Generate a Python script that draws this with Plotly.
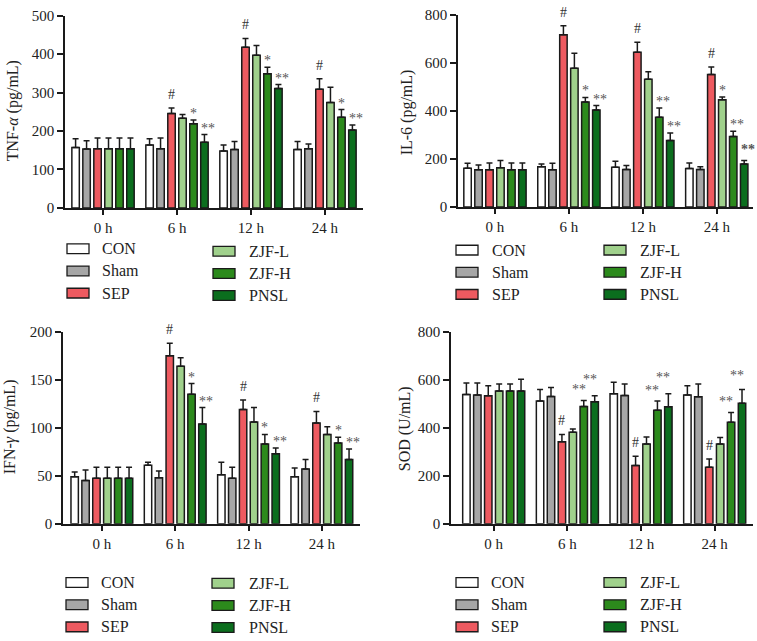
import plotly.graph_objects as go

W, H = 757, 641

groups = ['CON', 'Sham', 'SEP', 'ZJF-L', 'ZJF-H', 'PNSL']
colors = ['#FFFFFF', '#A6A6A6', '#EE5A60', '#A0D18C', '#2C8A1C', '#0B6E1E']
times = ['0 h', '6 h', '12 h', '24 h']

# rows = groups (CON, Sham, SEP, ZJF-L, ZJF-H, PNSL), cols = time points
tnf_mean = [
    [157, 164, 148, 152],
    [153, 154, 152, 154],
    [154, 246, 418, 309],
    [154, 233, 397, 274],
    [154, 219, 349, 236],
    [154, 171, 311, 203],
]
tnf_err = [
    [23, 16, 16, 21],
    [22, 28, 21, 12],
    [28, 14, 23, 27],
    [28, 10, 26, 40],
    [28, 10, 17, 20],
    [28, 20, 10, 13],
]

il6_mean = [
    [161, 167, 165, 160],
    [155, 155, 156, 156],
    [155, 717, 644, 551],
    [163, 578, 532, 446],
    [155, 437, 373, 293],
    [155, 404, 277, 179],
]
il6_err = [
    [21, 12, 25, 23],
    [20, 27, 16, 11],
    [28, 37, 42, 32],
    [30, 62, 31, 12],
    [28, 19, 39, 22],
    [28, 18, 31, 14],
]

ifn_mean = [
    [49, 61, 51, 49],
    [45, 48, 47.5, 57],
    [47.5, 175, 119, 105],
    [47.5, 164, 106, 93],
    [47.5, 135, 83, 84],
    [47.5, 104, 73, 67],
]
ifn_err = [
    [5, 3, 13, 9],
    [11, 7, 11.5, 10],
    [11.5, 13, 10, 12],
    [11.5, 9, 15, 8],
    [11.5, 11, 10, 6],
    [11.5, 17, 6, 11],
]

sod_mean = [
    [538, 511, 542, 536],
    [536, 530, 534, 529],
    [533, 342, 243, 236],
    [553, 381, 332, 332],
    [553, 488, 473, 423],
    [553, 508, 487, 502],
]
sod_err = [
    [48, 48, 48, 39],
    [50, 38, 48, 53],
    [42, 30, 38, 34],
    [29, 14, 30, 27],
    [29, 26, 38, 41],
    [49, 25, 55, 57],
]

# significance marks: (time index, group index, label, extra lift in px)
tnf_sig = [(1, 2, '#', 0), (1, 4, '*', 0), (1, 5, '**', 0),
           (2, 2, '#', 0), (2, 4, '*', 0), (2, 5, '**', 0),
           (3, 2, '#', 0), (3, 4, '*', 0), (3, 5, '**', 0)]
il6_sig = [(1, 2, '#', 0), (1, 4, '*', 0), (1, 5, '**', 0),
           (2, 2, '#', 0), (2, 4, '**', 0), (2, 5, '**', 0),
           (3, 2, '#', 0), (3, 3, '*', 0), (3, 4, '**', 0), (3, 5, '<b>**</b>', 5)]
ifn_sig = [(1, 2, '#', 0), (1, 4, '*', 0), (1, 5, '**', 0),
           (2, 2, '#', 0), (2, 4, '*', 0), (2, 5, '**', 0),
           (3, 2, '#', 0), (3, 4, '*', 0), (3, 5, '**', 0)]
sod_sig = [(1, 2, '#', 0), (1, 4, '**', 4), (1, 5, '**', 10),
           (2, 2, '#', 0), (2, 4, '**', 4), (2, 5, '**', 10),
           (3, 2, '#', 0), (3, 4, '**', 4), (3, 5, '**', 8)]

BARGAP = 0.11
BARGROUPGAP = 0.32
FONT = 'Liberation Serif'
INK = '#1a1a1a'


def px(x):
    return x / W


def py(y):
    return 1 - y / H


# pixel layout of each panel
panels = [
    dict(mean=tnf_mean, err=tnf_err, sig=tnf_sig, title='TNF-<i>α</i> (pg/mL)',
         x0=65, x1=363, ybot=205, ytop=8, yrange=500, dtick=100, xr=[-0.514, 3.514],
         tx=13, ty=106, c1=(67, 100, 247), c2=(213, 247, 249.5), dstar=4),
    dict(mean=il6_mean, err=il6_err, sig=il6_sig, title='IL-6 (pg/mL)',
         x0=458, x1=753, ybot=204, ytop=7, yrange=800, dtick=200, xr=[-0.5, 3.49],
         tx=407, ty=107, c1=(456, 490, 248.3), c2=(604, 638, 248.3), dstar=4),
    dict(mean=ifn_mean, err=ifn_err, sig=ifn_sig, title='IFN-<i>γ</i> (pg/mL)',
         x0=63, x1=360, ybot=529, ytop=332, yrange=200, dtick=50, xr=[-0.53, 3.52],
         tx=10, ty=430, c1=(66, 99, 589.3), c2=(212, 247, 590), dstar=4),
    dict(mean=sod_mean, err=sod_err, sig=sod_sig, title='SOD (U/mL)',
         x0=451, x1=753, ybot=529, ytop=332, yrange=800, dtick=200, xr=[-0.58, 3.52],
         tx=405, ty=431, c1=(456, 489, 589.3), c2=(604, 638, 589.3), dstar=-5),
]

fig = go.Figure()
annotations = []
shapes = []
layout_axes = {}

n = len(groups)
slot = (1 - BARGAP) / n

for p_i, p in enumerate(panels):
    sfx = '' if p_i == 0 else str(p_i + 1)
    xa, ya = 'x' + sfx, 'y' + sfx

    for g_i, name in enumerate(groups):
        fig.add_trace(go.Bar(
            x=list(range(len(times))),
            y=p['mean'][g_i],
            name=name,
            xaxis=xa, yaxis=ya,
            marker=dict(color=colors[g_i], line=dict(color=INK, width=1.5)),
            error_y=dict(type='data', array=p['err'][g_i], arrayminus=[0] * len(times),
                         symmetric=False, color=INK, thickness=1.5, width=3),
            showlegend=False,
        ))

    layout_axes['xaxis' + sfx] = dict(
        domain=[px(p['x0']), px(p['x1'])], anchor=ya, range=p['xr'],
        tickvals=list(range(len(times))), ticktext=times,
        showline=True, linecolor=INK, linewidth=1.5, ticks='outside', ticklen=5,
        tickwidth=1.5, tickcolor=INK, showgrid=False, zeroline=False,
        tickfont=dict(family=FONT, size=15, color='#222'),
    )
    layout_axes['yaxis' + sfx] = dict(
        domain=[py(p['ybot']), py(p['ytop'])], anchor=xa, range=[0, p['yrange']],
        dtick=p['dtick'], showline=True, linecolor=INK, linewidth=1.5,
        ticks='outside', ticklen=6, tickwidth=1.5, tickcolor=INK,
        showgrid=False, zeroline=False,
        tickfont=dict(family=FONT, size=15, color='#222'),
    )

    # y axis title
    annotations.append(dict(
        xref='paper', yref='paper', x=px(p['tx']), y=py(p['ty']),
        text=p['title'], textangle=-90, showarrow=False,
        font=dict(family=FONT, size=16, color='#222'),
        xanchor='center', yanchor='middle',
    ))

    # significance marks
    for t_i, g_i, label, lift in p['sig']:
        xc = t_i - (1 - BARGAP) / 2 + (g_i + 0.5) * slot
        top = p['mean'][g_i][t_i] + p['err'][g_i][t_i]
        is_hash = label == '#'
        annotations.append(dict(
            xref=xa, yref=ya, x=xc, y=top, text=label, showarrow=False,
            xanchor='center', yanchor='bottom',
            xshift=0 if (is_hash or label == '*') else p['dstar'],
            yshift=(4 if is_hash else -3) + lift,
            font=dict(family=FONT, size=14, color='#333' if is_hash else '#555'),
        ))

    # legend, two columns of three
    for g_i, name in enumerate(groups):
        col = p['c1'] if g_i < 3 else p['c2']
        sx, tx, ry = col
        yc = ry + (g_i % 3) * 22.7
        shapes.append(dict(
            type='rect', xref='paper', yref='paper',
            x0=px(sx), x1=px(sx + 22), y0=py(yc + 5), y1=py(yc - 5),
            fillcolor=colors[g_i], line=dict(color=INK, width=1.3),
        ))
        annotations.append(dict(
            xref='paper', yref='paper', x=px(tx), y=py(yc), text=name,
            showarrow=False, xanchor='left', yanchor='middle',
            font=dict(family=FONT, size=16, color='#222'),
        ))

fig.update_layout(
    width=W, height=H,
    margin=dict(l=0, r=0, t=0, b=0),
    paper_bgcolor='white', plot_bgcolor='white',
    barmode='group', bargap=BARGAP, bargroupgap=BARGROUPGAP,
    annotations=annotations, shapes=shapes,
    **layout_axes,
)

fig.write_html('out.html', config={'displayModeBar': False},
               post_script="document.body.style.margin='0';")
